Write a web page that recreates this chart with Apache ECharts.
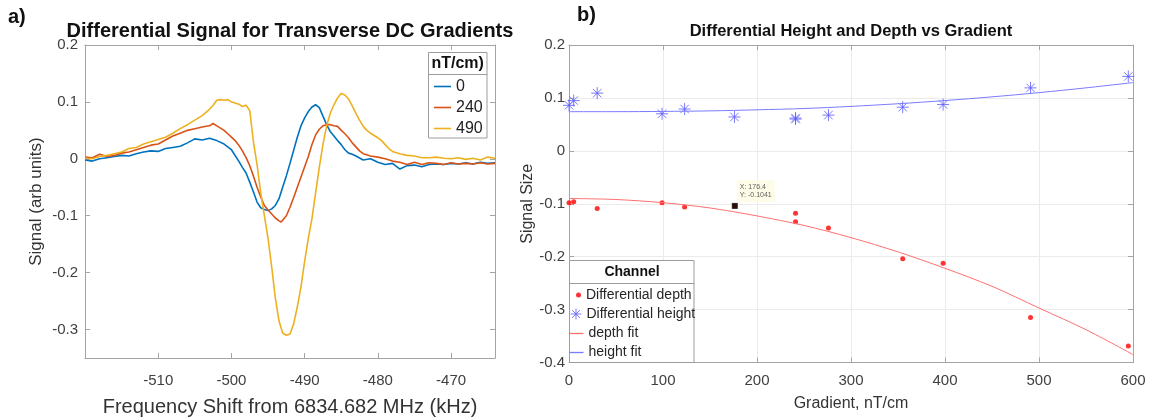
<!DOCTYPE html>
<html><head><meta charset="utf-8">
<script src="https://cdn.jsdelivr.net/npm/echarts@6/dist/echarts.min.js"></script>
<style>html,body{margin:0;padding:0;background:#fff}#c{width:1156px;height:417px}</style>
</head><body><div id="c"></div>
<script>
// ---------- Panel a) data ----------
const gradientNames = ['0', '240', '490'];
const freqTicks = [-510, -500, -490, -480, -470];
const signalTicks = [-0.3, -0.2, -0.1, 0, 0.1, 0.2];

const signal0 = [[-520,-0.002],[-519,-0.004],[-518,0.0],[-517,0.002],[-516,0.004],[-515,0.006],[-514,0.005],[-513,0.009],[-512,0.012],[-511,0.014],[-510,0.013],[-509,0.018],[-508,0.02],[-507,0.022],[-506,0.028],[-505,0.035],[-504,0.033],[-503,0.036],[-502,0.032],[-501,0.026],[-500,0.016],[-499,-0.004],[-498.5,-0.015],[-498,-0.025],[-497.5,-0.041],[-497,-0.058],[-496.5,-0.076],[-496,-0.086],[-495.5,-0.089],[-495,-0.091],[-494.5,-0.088],[-494,-0.082],[-493.5,-0.07],[-493,-0.05],[-492.5,-0.03],[-492,-0.008],[-491.5,0.015],[-491,0.038],[-490.5,0.058],[-490,0.072],[-489.5,0.083],[-489,0.091],[-488.5,0.095],[-488,0.09],[-487.5,0.075],[-487,0.06],[-486.5,0.048],[-486,0.04],[-485.5,0.032],[-485,0.025],[-484.5,0.016],[-484,0.01],[-483.5,0.008],[-483,0.005],[-482,-0.002],[-481,0.0],[-480,-0.006],[-479,-0.01],[-478,-0.008],[-477,-0.018],[-476,-0.012],[-475,-0.011],[-474,-0.014],[-473,-0.01],[-472,-0.009],[-471,-0.01],[-470,-0.008],[-469,-0.009],[-468,-0.007],[-467,-0.009],[-466,-0.006],[-465,-0.008],[-464,-0.007]];

const signal240 = [[-520,0.003],[-519,0.002],[-518,0.008],[-517,0.004],[-516,0.006],[-515,0.01],[-514,0.012],[-513,0.016],[-512,0.02],[-511,0.024],[-510,0.026],[-509,0.033],[-508,0.04],[-507,0.045],[-506,0.05],[-505,0.053],[-504,0.056],[-503,0.058],[-502.5,0.062],[-502,0.058],[-501.5,0.054],[-501,0.05],[-500.5,0.044],[-500,0.038],[-499.5,0.032],[-499,0.024],[-498.5,0.014],[-498,0.002],[-497.5,-0.012],[-497,-0.03],[-496.5,-0.05],[-496,-0.067],[-495.5,-0.082],[-495,-0.09],[-494.5,-0.097],[-494,-0.104],[-493.5,-0.109],[-493.2,-0.111],[-493,-0.11],[-492.5,-0.1],[-492,-0.085],[-491.5,-0.068],[-491,-0.05],[-490.5,-0.032],[-490,-0.014],[-489.5,0.004],[-489,0.025],[-488.5,0.042],[-488,0.052],[-487.5,0.058],[-487,0.06],[-486.5,0.06],[-486,0.058],[-485.5,0.057],[-485,0.05],[-484.5,0.044],[-484,0.037],[-483.5,0.028],[-483,0.021],[-482.5,0.014],[-482,0.009],[-481,0.005],[-480,0.003],[-479,0.0],[-478,-0.004],[-477,-0.006],[-476,-0.01],[-475,-0.006],[-474,-0.01],[-473,-0.007],[-472,-0.008],[-471,-0.01],[-470,-0.007],[-469,-0.009],[-468,-0.008],[-467,-0.009],[-466,-0.007],[-465,-0.009],[-464,-0.008]];

const signal490 = [[-520,0.001],[-519,0.0],[-518,0.004],[-517,0.006],[-516,0.009],[-515,0.012],[-514,0.018],[-513,0.02],[-512,0.026],[-511,0.03],[-510,0.034],[-509,0.038],[-508,0.045],[-507,0.053],[-506,0.06],[-505,0.068],[-504,0.076],[-503,0.087],[-502.5,0.094],[-502,0.103],[-501.5,0.104],[-501,0.103],[-500.5,0.104],[-500,0.1],[-499.5,0.098],[-499,0.096],[-498.5,0.092],[-498,0.094],[-497.5,0.085],[-497,0.03],[-496.5,-0.01],[-496,-0.06],[-495.5,-0.1],[-495,-0.14],[-494.5,-0.19],[-494,-0.245],[-493.5,-0.285],[-493,-0.306],[-492.5,-0.31],[-492,-0.308],[-491.5,-0.29],[-491,-0.26],[-490.5,-0.225],[-490,-0.18],[-489.5,-0.14],[-489,-0.105],[-488.5,-0.06],[-488,-0.015],[-487.5,0.025],[-487,0.058],[-486.5,0.08],[-486,0.095],[-485.5,0.107],[-485,0.115],[-484.5,0.112],[-484,0.105],[-483.5,0.093],[-483,0.08],[-482.5,0.068],[-482,0.057],[-481.5,0.05],[-481,0.045],[-480.5,0.041],[-480,0.037],[-479.5,0.032],[-479,0.025],[-478.5,0.018],[-478,0.013],[-477,0.009],[-476,0.006],[-475,0.005],[-474,0.002],[-473,0.002],[-472,0.003],[-471,0.001],[-470,0.0],[-469,0.002],[-468,-0.001],[-467,0.001],[-466,-0.002],[-465,0.003],[-464,0.001]];

// ---------- Panel b) data ----------
const depthGradient = [0, 5, 30, 99, 123, 176.4, 241, 241, 276, 355, 398, 491, 595];
const depthValues = [-0.098, -0.096, -0.109, -0.098, -0.106, -0.1041, -0.118, -0.134, -0.146, -0.204, -0.2125, -0.315, -0.369];
const heightGradient = [0, 5, 30, 99, 123, 176, 241, 241, 276, 355, 398, 491, 595];
const heightValues = [0.086, 0.095, 0.109, 0.070, 0.079, 0.064, 0.062, 0.060, 0.0675, 0.0825, 0.0875, 0.119, 0.1406];
const fitGradient = [0, 50, 100, 150, 200, 250, 300, 350, 400, 450, 500, 550, 600];
const depthFit = [-0.090, -0.092, -0.098, -0.108, -0.123, -0.141, -0.164, -0.191, -0.222, -0.256, -0.297, -0.338, -0.385];
const heightFit = [0.074, 0.074, 0.0745, 0.0755, 0.0775, 0.080, 0.084, 0.089, 0.095, 0.102, 0.110, 0.119, 0.129];
const tipPoint = [176.4, -0.1041];
const seriesNamesB = ['Differential depth', 'Differential height', 'depth fit', 'height fit'];

const zip = (xs, ys) => xs.map((x, i) => [x, ys[i]]);

const FONT = 'Liberation Sans, Arial, Helvetica, sans-serif';
const AX = '#a4a4a4';
const LBL = '#404040';
const ASTER = 'path://M6,0L6,12M0,6L12,6M1.76,1.76L10.24,10.24M1.76,10.24L10.24,1.76';
const BLUE_M = '#5a5aff';
const C0 = '#0072BD', C1 = '#D95319', C2 = '#EDB120', CDF = '#ff7070', CHF = '#7a7aff';

function boxAxis(extra) {
  return Object.assign({
    type: 'value',
    axisLine: { show: true, onZero: false, lineStyle: { color: AX, width: 1 } },
    axisTick: { show: true, inside: true, length: 5, lineStyle: { color: AX } },
    axisLabel: { show: false },
    splitLine: { show: false }
  }, extra);
}

const chart = echarts.init(document.getElementById('c'), null, { renderer: 'canvas' });
const option = {
  animation: false,
  textStyle: { fontFamily: FONT },
  grid: [
    { left: 85, top: 45, width: 410, height: 313, containLabel: false, outerBoundsMode: 'none' },
    { left: 569, top: 45, width: 564, height: 317.5, containLabel: false, outerBoundsMode: 'none' }
  ],
  xAxis: [
    boxAxis({ gridIndex: 0, position: 'bottom', min: -520, max: -464,
      axisTick: { show: true, inside: true, length: 5, lineStyle: { color: AX }, customValues: freqTicks },
      axisLabel: { show: true, customValues: freqTicks, fontSize: 15, color: LBL, margin: 15 },
      name: 'Frequency Shift from 6834.682 MHz (kHz)', nameLocation: 'middle', nameGap: 39,
      nameTextStyle: { fontSize: 20, color: '#333' } }),
    boxAxis({ gridIndex: 0, position: 'top', min: -520, max: -464,
      axisTick: { show: true, inside: true, length: 5, lineStyle: { color: AX }, customValues: freqTicks } }),
    boxAxis({ gridIndex: 1, position: 'bottom', min: 0, max: 600, interval: 100,
      axisLabel: { show: true, fontSize: 15, color: LBL, margin: 11 },
      splitLine: { show: true, lineStyle: { color: '#ebebeb', width: 1 } },
      name: 'Gradient, nT/cm', nameLocation: 'middle', nameGap: 33,
      nameTextStyle: { fontSize: 16, color: '#333' } }),
    boxAxis({ gridIndex: 1, position: 'top', min: 0, max: 600, interval: 100 })
  ],
  yAxis: [
    boxAxis({ gridIndex: 0, position: 'left', min: -0.35, max: 0.2,
      axisTick: { show: true, inside: true, length: 5, lineStyle: { color: AX }, customValues: signalTicks },
      axisLabel: { show: true, customValues: signalTicks, fontSize: 15, color: LBL, margin: 7 },
      name: 'Signal (arb units)', nameLocation: 'middle', nameGap: 40,
      nameTextStyle: { fontSize: 17, color: '#333' } }),
    boxAxis({ gridIndex: 0, position: 'right', min: -0.35, max: 0.2,
      axisTick: { show: true, inside: true, length: 5, lineStyle: { color: AX }, customValues: signalTicks } }),
    boxAxis({ gridIndex: 1, position: 'left', min: -0.4, max: 0.2, interval: 0.1,
      axisLabel: { show: true, fontSize: 15, color: LBL, margin: 4 },
      splitLine: { show: true, lineStyle: { color: '#ebebeb', width: 1 } },
      name: 'Signal Size', nameLocation: 'middle', nameGap: 33,
      nameTextStyle: { fontSize: 16, color: '#333' } }),
    boxAxis({ gridIndex: 1, position: 'right', min: -0.4, max: 0.2, interval: 0.1 })
  ],
  legend: [
    { data: [
        { name: gradientNames[0], icon: 'rect', itemStyle: { color: C0 } },
        { name: gradientNames[1], icon: 'rect', itemStyle: { color: C1 } },
        { name: gradientNames[2], icon: 'rect', itemStyle: { color: C2 } }
      ], orient: 'vertical', left: 434, top: 76, padding: 0,
      itemWidth: 17, itemHeight: 1.6, itemGap: 0,
      textStyle: { fontSize: 16, color: '#222', lineHeight: 21 } },
    { data: [{ name: seriesNamesB[0], icon: 'circle', itemStyle: { color: '#ff0000' } }], left: 576, top: 285.5, padding: 0,
      itemWidth: 5, itemHeight: 5, textStyle: { fontSize: 14, color: '#262626', lineHeight: 19 } },
    { data: [{ name: seriesNamesB[1], icon: ASTER,
        itemStyle: { color: 'rgba(0,0,0,0)', borderColor: BLUE_M, borderWidth: 1 } }],
      left: 570, top: 304.5, padding: 0,
      itemWidth: 11, itemHeight: 11, textStyle: { fontSize: 14, color: '#262626', lineHeight: 19 } },
    { data: [{ name: seriesNamesB[2], icon: 'rect', itemStyle: { color: CDF } }], left: 569.5, top: 324, padding: 0,
      itemWidth: 14, itemHeight: 1.3, textStyle: { fontSize: 14, color: '#262626', lineHeight: 19 } },
    { data: [{ name: seriesNamesB[3], icon: 'rect', itemStyle: { color: CHF } }], left: 569.5, top: 343, padding: 0,
      itemWidth: 14, itemHeight: 1.3, textStyle: { fontSize: 14, color: '#262626', lineHeight: 19 } }
  ],
  graphic: [
    { type: 'text', x: 8, y: 17, z: 5, style: { text: 'a)', font: 'bold 20px ' + FONT, fill: '#111', verticalAlign: 'middle' } },
    { type: 'text', x: 577, y: 15, z: 5, style: { text: 'b)', font: 'bold 20px ' + FONT, fill: '#111', verticalAlign: 'middle' } },
    { type: 'text', x: 290, y: 31, z: 5, style: { text: 'Differential Signal for Transverse DC Gradients', font: 'bold 20px ' + FONT, fill: '#111', align: 'center', verticalAlign: 'middle' } },
    { type: 'text', x: 851, y: 31, z: 5, style: { text: 'Differential Height and Depth vs Gradient', font: 'bold 16.5px ' + FONT, fill: '#111', align: 'center', verticalAlign: 'middle' } },
    { type: 'rect', z: 3, shape: { x: 428.5, y: 52.5, width: 58.5, height: 85.5 }, style: { fill: '#fff', stroke: '#9c9c9c', lineWidth: 1 } },
    { type: 'line', z: 3, shape: { x1: 428.5, y1: 74.5, x2: 487, y2: 74.5 }, style: { stroke: '#9c9c9c', lineWidth: 1 } },
    { type: 'text', z: 5, x: 457.7, y: 64, style: { text: 'nT/cm)', font: 'bold 16px ' + FONT, fill: '#111', align: 'center', verticalAlign: 'middle' } },
    { type: 'rect', z: 3, shape: { x: 569.5, y: 260.5, width: 124.5, height: 102 }, style: { fill: '#fff', stroke: '#9c9c9c', lineWidth: 1 } },
    { type: 'line', z: 3, shape: { x1: 569.5, y1: 283.5, x2: 694, y2: 283.5 }, style: { stroke: '#9c9c9c', lineWidth: 1 } },
    { type: 'text', z: 5, x: 632, y: 272, style: { text: 'Channel', font: 'bold 14px ' + FONT, fill: '#111', align: 'center', verticalAlign: 'middle' } }
  ],
  series: [
    { name: gradientNames[0], type: 'line', xAxisIndex: 0, yAxisIndex: 0, data: signal0, symbol: 'none',
      lineStyle: { color: C0, width: 1.6 }, itemStyle: { color: C0 } },
    { name: gradientNames[1], type: 'line', xAxisIndex: 0, yAxisIndex: 0, data: signal240, symbol: 'none',
      lineStyle: { color: C1, width: 1.6 }, itemStyle: { color: C1 } },
    { name: gradientNames[2], type: 'line', xAxisIndex: 0, yAxisIndex: 0, data: signal490, symbol: 'none',
      lineStyle: { color: C2, width: 1.6 }, itemStyle: { color: C2 } },
    { name: seriesNamesB[2], type: 'line', xAxisIndex: 2, yAxisIndex: 2, data: zip(fitGradient, depthFit), symbol: 'none', smooth: 0.3,
      lineStyle: { color: CDF, width: 1 }, itemStyle: { color: CDF } },
    { name: seriesNamesB[3], type: 'line', xAxisIndex: 2, yAxisIndex: 2, data: zip(fitGradient, heightFit), symbol: 'none', smooth: 0.3,
      lineStyle: { color: CHF, width: 1 }, itemStyle: { color: CHF } },
    { name: seriesNamesB[0], type: 'scatter', xAxisIndex: 2, yAxisIndex: 2, data: zip(depthGradient, depthValues),
      symbol: 'circle', symbolSize: 5, itemStyle: { color: '#ff0000' } },
    { name: seriesNamesB[1], type: 'scatter', xAxisIndex: 2, yAxisIndex: 2, data: zip(heightGradient, heightValues),
      symbol: ASTER, symbolSize: 12, symbolKeepAspect: true,
      itemStyle: { color: 'rgba(0,0,0,0)', borderColor: BLUE_M, borderWidth: 1 } },
    { name: 'datatip', type: 'scatter', xAxisIndex: 2, yAxisIndex: 2, data: [tipPoint], z: 6,
      symbol: 'rect', symbolSize: 6, itemStyle: { color: '#000' },
      label: { show: true, position: [5, -23], fontSize: 7, lineHeight: 8, color: '#333',
        backgroundColor: '#fbfbe2', padding: [3, 3],
        formatter: () => 'X: ' + tipPoint[0] + '\nY: ' + tipPoint[1] } }
  ]
};
chart.setOption(option);
</script>
</body></html>
